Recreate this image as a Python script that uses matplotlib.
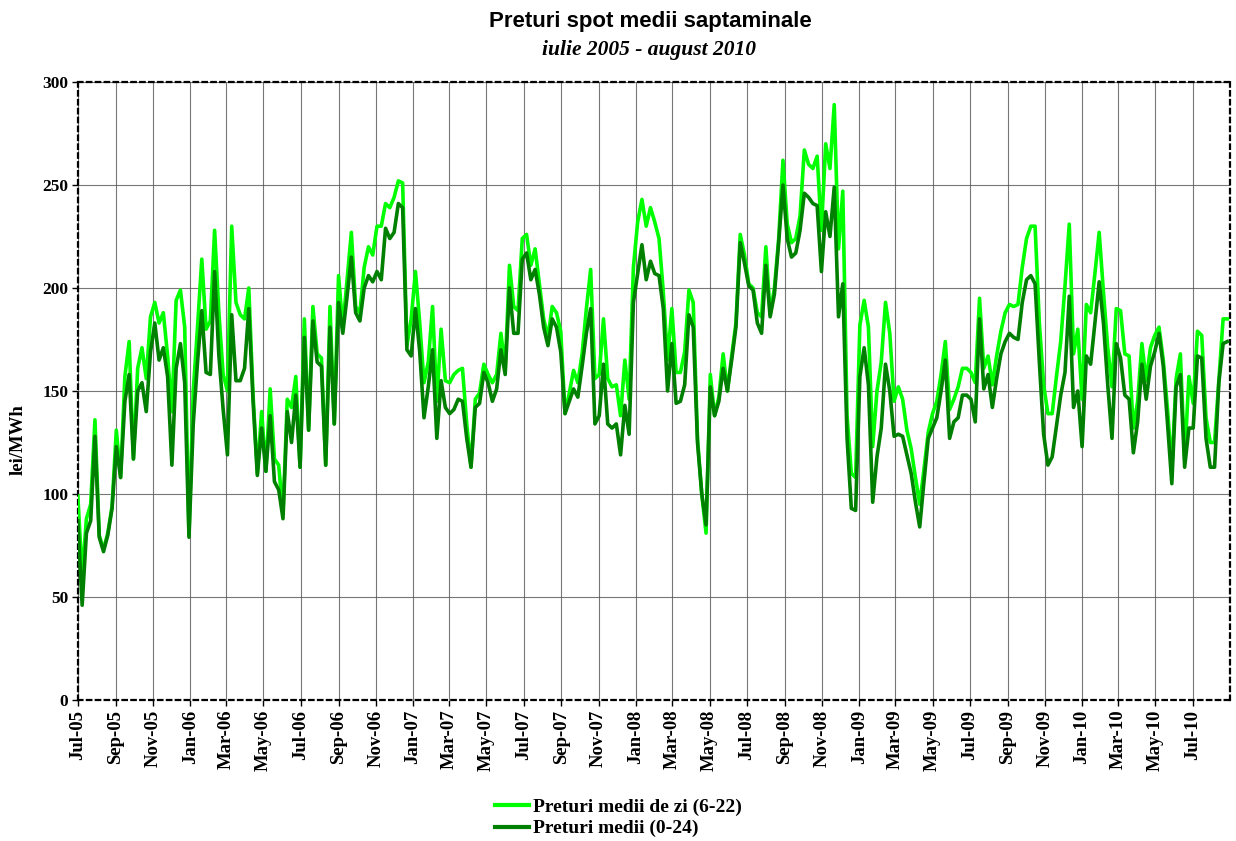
import numpy as np
import pandas as pd
import matplotlib
matplotlib.use("Agg")
import matplotlib.pyplot as plt
import matplotlib.dates as mdates

# weekly averages, Jul 2005 - Aug 2010 (lei/MWh)
zi = [99, 60, 88, 95, 136, 80, 73, 81, 94, 131,
      108, 157, 174, 117, 161, 171, 156, 186, 193, 183,
      188, 167, 140, 194, 199, 181, 80, 150, 181, 214,
      180, 184, 228, 188, 158, 150, 230, 193, 187, 185,
      200, 148, 110, 140, 111, 151, 117, 114, 90, 146,
      142, 157, 113, 185, 131, 191, 168, 166, 114, 191,
      134, 206, 181, 204, 227, 191, 188, 210, 220, 216,
      230, 230, 241, 239, 244, 252, 251, 172, 185, 208,
      183, 154, 164, 191, 145, 180, 155, 154, 158, 160,
      161, 134, 113, 146, 149, 163, 158, 154, 158, 178,
      161, 211, 191, 189, 224, 226, 211, 219, 202, 185,
      176, 191, 188, 179, 139, 149, 160, 154, 168, 190,
      209, 156, 158, 185, 156, 152, 153, 138, 165, 146,
      210, 232, 243, 230, 239, 232, 224, 198, 165, 190,
      159, 159, 169, 199, 193, 127, 100, 81, 158, 138,
      147, 168, 150, 167, 183, 226, 216, 202, 200, 188,
      186, 220, 187, 200, 224, 262, 231, 222, 224, 235,
      267, 260, 258, 264, 228, 270, 258, 289, 219, 247,
      138, 110, 108, 182, 194, 181, 123, 150, 164, 193,
      178, 145, 152, 146, 131, 122, 108, 95, 112, 130,
      139, 145, 158, 174, 141, 146, 152, 161, 161, 159,
      154, 195, 161, 167, 153, 167, 179, 188, 192, 191,
      192, 210, 224, 230, 230, 183, 153, 139, 139, 157,
      174, 201, 231, 168, 180, 146, 192, 188, 207, 227,
      198, 171, 152, 190, 189, 168, 167, 132, 145, 173,
      155, 171, 177, 181, 165, 141, 112, 156, 168, 117,
      157, 144, 179, 177, 137, 125, 125, 155, 185, 185]

medii = [87, 46, 81, 87, 128, 79, 72, 80, 93, 123,
         108, 145, 158, 117, 150, 154, 140, 169, 183, 165,
         171, 157, 114, 161, 173, 154, 79, 134, 164, 189,
         159, 158, 208, 167, 141, 119, 187, 155, 155, 161,
         190, 145, 109, 132, 111, 138, 106, 102, 88, 140,
         125, 148, 113, 176, 131, 184, 164, 162, 114, 181,
         134, 193, 178, 196, 215, 188, 184, 200, 206, 203,
         208, 204, 229, 224, 227, 241, 239, 170, 167, 190,
         169, 137, 152, 170, 127, 155, 142, 139, 141, 146,
         145, 127, 113, 142, 144, 159, 154, 145, 151, 170,
         158, 200, 178, 178, 214, 217, 204, 209, 197, 181,
         172, 185, 181, 169, 139, 145, 151, 147, 162, 178,
         190, 134, 138, 163, 134, 132, 134, 119, 143, 129,
         193, 207, 221, 204, 213, 207, 206, 190, 150, 173,
         144, 145, 153, 187, 181, 125, 100, 85, 152, 138,
         145, 161, 150, 165, 181, 222, 212, 201, 199, 183,
         178, 211, 186, 197, 222, 250, 224, 215, 217, 228,
         246, 244, 241, 240, 208, 237, 225, 249, 186, 202,
         127, 93, 92, 157, 171, 153, 96, 118, 132, 163,
         150, 128, 129, 128, 119, 110, 96, 84, 106, 127,
         132, 137, 150, 165, 127, 135, 137, 148, 148, 146,
         135, 185, 151, 158, 142, 156, 168, 174, 178, 176,
         175, 193, 204, 206, 202, 164, 129, 114, 118, 133,
         148, 159, 196, 142, 150, 123, 167, 163, 183, 203,
         183, 153, 127, 173, 166, 148, 146, 120, 135, 163,
         146, 162, 169, 178, 162, 134, 105, 152, 158, 113,
         132, 132, 167, 166, 127, 113, 113, 154, 173, 174]

weeks = pd.date_range("2005-07-01", periods=len(zi), freq="7D")
tick_dates = pd.date_range("2005-07-01", "2010-07-01", freq="2MS")

serif = ["Liberation Serif", "DejaVu Serif"]
sans = ["Liberation Sans", "DejaVu Sans"]

fig = plt.figure(figsize=(12.36, 8.41), dpi=100)
ax = fig.add_axes([0.063, 0.1677, 0.932, 0.7348])

l1, = ax.plot(weeks, zi, color="#00FF00", lw=2.6, label="Preturi medii de zi (6-22)", zorder=3)
l2, = ax.plot(weeks, medii, color="#008000", lw=2.6, label="Preturi medii (0-24)", zorder=4)

ax.set_ylim(0, 300)
ax.set_yticks(np.arange(0, 301, 50))
ax.set_xlim(weeks[0], weeks[-1] + pd.Timedelta(days=4))
ax.set_xticks(tick_dates)
ax.xaxis.set_major_formatter(mdates.DateFormatter("%b-%y"))

for lab in ax.get_xticklabels():
    lab.set_rotation(90)
    lab.set_family(serif)
    lab.set_fontweight("bold")
    lab.set_fontsize(13.5)
for lab in ax.get_yticklabels():
    lab.set_family(serif)
    lab.set_fontweight("bold")
    lab.set_fontsize(12.5)

ax.tick_params(axis="both", direction="out", length=4, width=1, color="black", pad=3)
ax.grid(True, color="#555555", lw=0.8, alpha=0.8)
ax.set_axisbelow(True)
for s in ax.spines.values():
    s.set_linestyle((0, (2, 2)))
    s.set_linewidth(1.6)
    s.set_color("black")

fig.text(18 / 1236, 1 - 440 / 841, "lei/MWh", rotation=90, ha="center", va="center",
         family=serif, fontweight="bold", fontsize=13.5)

fig.text(0.526, 0.975, "Preturi spot medii saptaminale", ha="center", va="center",
         family=sans, fontweight="bold", fontsize=16)
fig.text(0.525, 0.941, "iulie 2005 - august 2010", ha="center", va="center",
         family=serif, fontweight="bold", style="italic", fontsize=15.5)

leg = fig.legend(handles=[l1, l2], loc="center", bbox_to_anchor=(0.5, 0.0275),
                 ncol=1, frameon=False, prop={"family": serif, "weight": "bold", "size": 14},
                 handlelength=1.75, handletextpad=0.2, labelspacing=0.2,
                 borderpad=0.1)
for h in leg.get_lines():
    h.set_linewidth(3)

fig.savefig("out.png", dpi=100)
